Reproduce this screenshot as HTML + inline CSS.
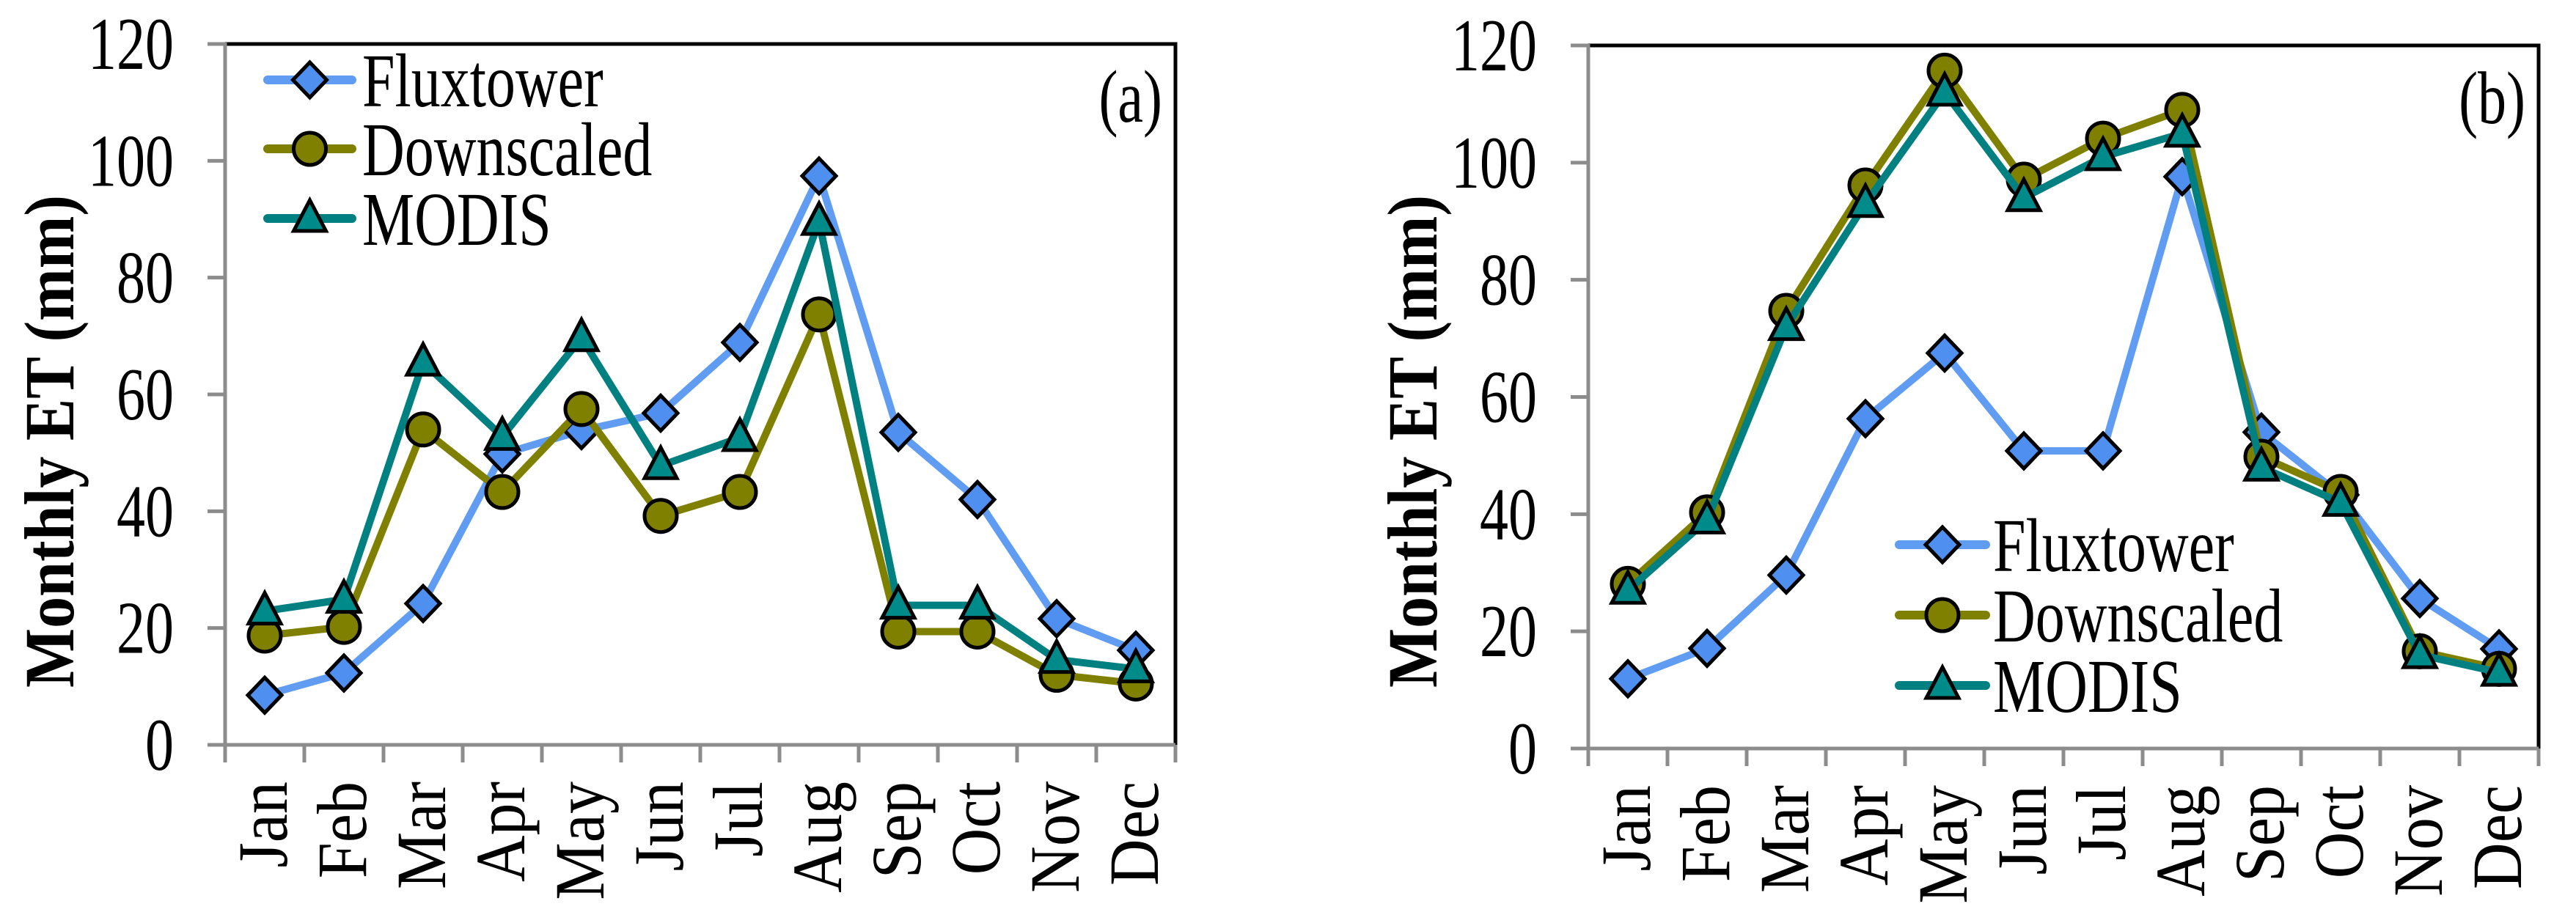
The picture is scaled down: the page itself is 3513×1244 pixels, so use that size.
<!DOCTYPE html>
<html><head><meta charset="utf-8"><style>
html,body{margin:0;padding:0;background:#fff;}
svg{display:block;font-family:"Liberation Serif",serif;}
</style></head><body>
<svg id="chart" width="3513" height="1244" viewBox="0 0 3513 1244" xmlns="http://www.w3.org/2000/svg"></svg>
<script>
const months = ["Jan","Feb","Mar","Apr","May","Jun","Jul","Aug","Sep","Oct","Nov","Dec"];
const yTicks = [0,20,40,60,80,100,120];
const fluxA = [8.5,12.3,24.2,49.8,53.8,56.8,68.9,97.4,53.5,42,21.6,16.2];
const downA = [18.7,20.2,54,43.3,57.5,39.2,43.3,73.7,19.4,19.4,12,10.5];
const modisA = [22.9,24.9,65.5,52.8,69.7,47.8,52.6,89.6,23.9,23.9,14.6,13];
const fluxB = [11.9,17.1,29.6,56.3,67.5,50.8,50.8,97.6,54,43.3,25.6,17];
const downB = [28.1,40.3,74.7,96.1,115.7,97.1,104.1,109,49.8,43.8,16.6,13.6];
const modisB = [27,39,72,93,112,94,101,105,48,42,16,13];

const NS="http://www.w3.org/2000/svg";
const svg=document.getElementById('chart');
function mk(tag,attrs,parent){const e=document.createElementNS(NS,tag);for(const k in attrs)e.setAttribute(k,attrs[k]);(parent||svg).appendChild(e);return e;}

const styles={
 flux:{line:"#5f9cf2",fill:"#4f8ff0",shape:"diamond"},
 down:{line:"#808000",fill:"#808000",shape:"circle"},
 modis:{line:"#008080",fill:"#008b8b",shape:"triangle"}
};
function marker(g,shape,cx,cy,fill){
 let m;
 if(shape==="diamond"){m=mk('polygon',{points:`${cx},${cy-24} ${cx+23},${cy} ${cx},${cy+24} ${cx-23},${cy}`,fill:fill,stroke:"#000","stroke-width":5},g);}
 else if(shape==="circle"){m=mk('circle',{cx:cx,cy:cy,r:22,fill:fill,stroke:"#000","stroke-width":5},g);}
 else {m=mk('polygon',{points:`${cx},${cy-25} ${cx+22},${cy+17} ${cx-22},${cy+17}`,fill:fill,stroke:"#000","stroke-width":5},g);}
 return m;
}
const SY=1.3;
function panel(id,L,T,R,B,series,label,legend){
 const g=mk('g',{});
 
 
 const xs=i=>L+(R-L)/months.length*(i+0.5);
 const ys=v=>B-(v/120)*(B-T);
 const fr=mk('path',{d:`M${L},${T} H${R} V${B}`,fill:"none",stroke:"#000","stroke-width":5},g);
  
 const ya=mk('line',{x1:L,y1:T-2,x2:L,y2:B+24,stroke:"#8c8c8c","stroke-width":5},g);
  
 const xa=mk('line',{x1:L-24,y1:B,x2:R,y2:B,stroke:"#8c8c8c","stroke-width":5},g);
  
 yTicks.forEach(v=>{
  const y=ys(v);
  const t=mk('line',{x1:L-24,y1:y,x2:L,y2:y,stroke:"#8c8c8c","stroke-width":5},g);
   
  const tx=mk('text',{x:0,y:0,"text-anchor":"end","font-size":78,transform:`translate(${L-70},${y+34}) scale(1,${SY})`},g);
  tx.textContent=v;
   
 });
 for(let i=0;i<=months.length;i++){
  const x=L+(R-L)/months.length*i;
  const t=mk('line',{x1:x,y1:B,x2:x,y2:B+24,stroke:"#8c8c8c","stroke-width":5},g);
   
 }
 months.forEach((m,i)=>{
  const x=xs(i)+30, y=B+50;
  const tx=mk('text',{x:0,y:0,"text-anchor":"end","font-size":84,transform:`translate(${x},${y}) rotate(-90) scale(1.05,1.15)`},g);
  tx.textContent=m;
   
 });
 const tl=mk('text',{x:0,y:0,"text-anchor":"middle","font-size":86,"font-weight":"bold",transform:`translate(${L-207},602) rotate(-90) scale(1,1.12)`},g);
 tl.textContent="Monthly ET (mm)";
  
 const pl=mk('text',{x:0,y:0,"text-anchor":"end","font-size":78,transform:`translate(${R-18},${T+106}) scale(1,${SY})`},g);
 pl.textContent=label;
  
 series.forEach(s=>{
  const st=styles[s.key];
  const sg=mk('g',{},g);
   
  const pts=s.vals.map((v,i)=>xs(i)+','+ys(v)).join(' ');
  const pl2=mk('polyline',{points:pts,fill:"none",stroke:st.line,"stroke-width":10,"stroke-linejoin":"round"},sg);
   
  s.vals.forEach((v,i)=>{
   const mm=marker(sg,st.shape,xs(i),ys(v),st.fill);
   
   
  });
 });
 const lg=mk('g',{},g);
  
 legend.rows.forEach((r,k)=>{
  const st=styles[r.key], y=legend.ys[k];
  const eg=mk('g',{},lg);
   
  mk('line',{x1:legend.x1,y1:y,x2:legend.x2,y2:y,stroke:st.line,"stroke-width":12,"stroke-linecap":"round"},eg);
  marker(eg,st.shape,(legend.x1+legend.x2)/2,y,st.fill);
  const t=mk('text',{x:0,y:0,"font-size":80,transform:`translate(${legend.tx},${y+36}) scale(1,${SY})`},eg);
  t.textContent=r.name;
   
 });
}

panel('a',307,60,1603,1016,
 [{key:'flux',vals:fluxA},{key:'down',vals:downA},{key:'modis',vals:modisA}],"(a)",
 {x1:365,x2:480,tx:494,ys:[109,203,298],rows:[{key:'flux',name:'Fluxtower'},{key:'down',name:' Downscaled'},{key:'modis',name:'MODIS'}]});
panel('b',2166,62,3462,1021,
 [{key:'flux',vals:fluxB},{key:'down',vals:downB},{key:'modis',vals:modisB}],"(b)",
 {x1:2590,x2:2708,tx:2718,ys:[743,839,935],rows:[{key:'flux',name:'Fluxtower'},{key:'down',name:'Downscaled'},{key:'modis',name:'MODIS'}]});
</script>
</body></html>
